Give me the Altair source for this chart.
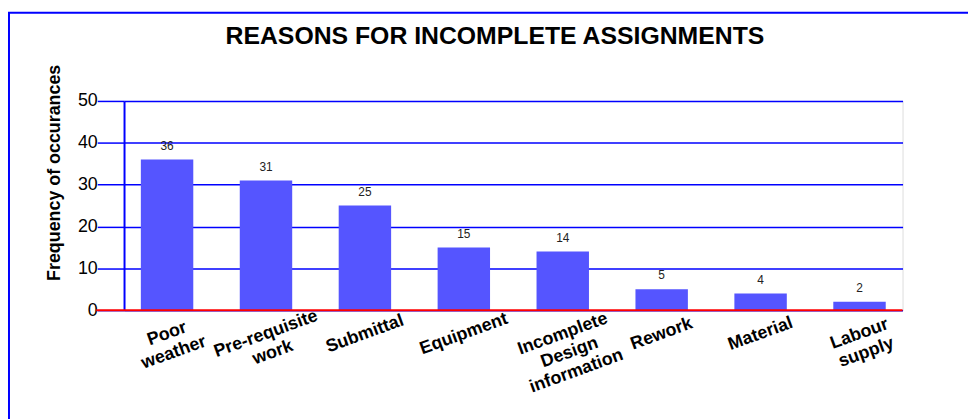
import altair as alt
import pandas as pd

categories = ["Poor\nweather", "Pre-requisite\nwork", "Submittal", "Equipment",
              "Incomplete\nDesign\ninformation", "Rework", "Material", "Labour\nsupply"]
values = [36, 31, 25, 15, 14, 5, 4, 2]
y_ticks = [0, 10, 20, 30, 40, 50]
chart_title = ["REASONS FOR INCOMPLETE ASSIGNMENTS"]

df = pd.DataFrame({"cat": categories, "val": values})

W, H = 785, 211
FONT = "Liberation Sans"

xscale = alt.Scale(domain=categories, paddingInner=0.47, paddingOuter=0.17)
yscale = alt.Scale(domain=[0, 50])

base = alt.Chart(df)

bars = base.mark_bar(color="#5555FF").encode(
    x=alt.X("cat:N", sort=None, scale=xscale, axis=None),
    y=alt.Y("val:Q", scale=yscale,
            axis=alt.Axis(values=y_ticks, grid=True, gridColor="#0000FF", gridWidth=1.5,
                          gridOpacity=1, domainColor="#0000FF", domainWidth=2,
                          tickColor="#0000FF", tickSize=27, tickWidth=1.5,
                          labelPadding=0, labelFont=FONT, labelFontSize=18,
                          labelColor="#000000",
                          title="Frequency of occurances", titleFont=FONT,
                          titleFontSize=18, titleFontWeight="bold", titleColor="#000000",
                          titleX=-70, titleY=72, titleAngle=270, titleAlign="center",
                          titleBaseline="middle")),
)

value_labels = base.mark_text(font=FONT, fontSize=12, color="#222222",
                              baseline="middle", dy=-14).encode(
    x=alt.X("cat:N", sort=None, scale=xscale),
    y=alt.Y("val:Q", scale=yscale),
    text=alt.Text("val:Q"),
)

cat_labels = base.mark_text(font=FONT, fontSize=18, fontWeight="bold", color="#000000",
                            angle=340, align="center", baseline="middle",
                            lineBreak="\n", lineHeight=20).encode(
    x=alt.X("cat:N", sort=None, scale=xscale),
    y=alt.value(H + 24),
    text="cat:N",
)

zero = alt.Chart(pd.DataFrame({"z": [0]})).mark_rule(color="#FF0000", strokeWidth=2).encode(
    y=alt.Y("z:Q", scale=yscale),
    x=alt.value(-28),
    x2=alt.value(W),
)

frame = alt.Chart(pd.DataFrame({"f": [0]})).mark_rect(
    filled=False, stroke="#0000FF", strokeWidth=2).encode(
    x=alt.value(-116), x2=alt.value(900),
    y=alt.value(-89), y2=alt.value(400),
)

title = alt.Chart(pd.DataFrame({"t": chart_title})).mark_text(
    font=FONT, fontSize=25, fontWeight="bold", color="#000000",
    align="center", baseline="alphabetic").encode(
    x=alt.value(374), y=alt.value(-57), text="t:N",
)

chart = alt.layer(frame, bars, zero, value_labels, cat_labels, title).properties(
    width=W, height=H,
    autosize=alt.AutoSizeParams(type="none"),
    padding={"left": 117, "top": 92, "right": 66, "bottom": 108},
).configure_view(stroke=None).configure(background="#FFFFFF")

chart.save("out.html", embed_options={"renderer": "svg", "actions": False})
